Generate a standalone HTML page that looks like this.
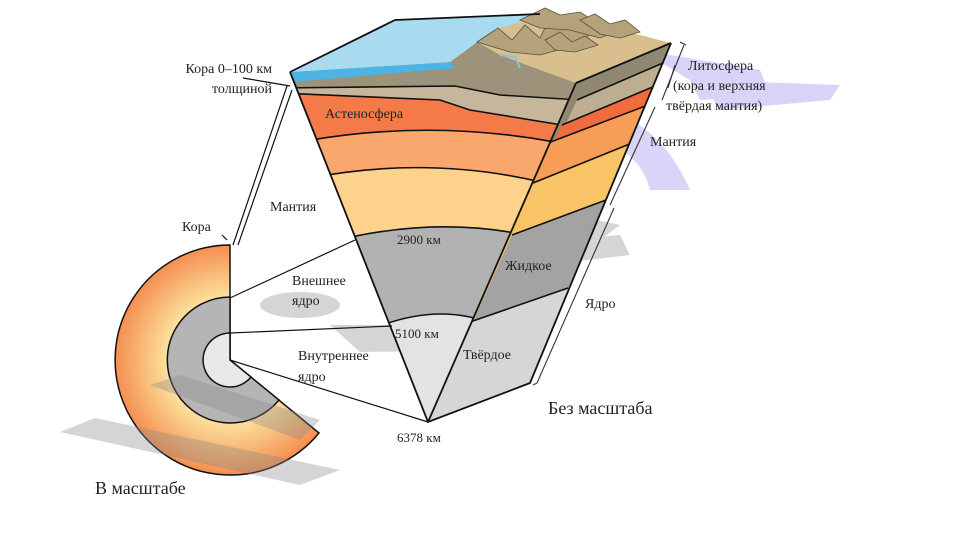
<!DOCTYPE html>
<html><head><meta charset="utf-8"><style>
html,body{margin:0;padding:0;background:#fff}
svg{display:block}
text{font-family:"Liberation Serif",serif;fill:#222}
</style></head><body>
<svg width="961" height="540" viewBox="0 0 961 540" xmlns="http://www.w3.org/2000/svg">
<defs>
<clipPath id="front"><path d="M290,72 L450,62 L477,42 L495,32 L576,83 L428,422 Z"/></clipPath>
<clipPath id="right"><path d="M576,83 L671,43 L530,383 L428,422 Z"/></clipPath>
<radialGradient id="og" cx="230" cy="360" r="118" gradientUnits="userSpaceOnUse">
<stop offset="0.5" stop-color="#fde7a2"/><stop offset="1" stop-color="#f48a4c"/></radialGradient>
</defs>

<path d="M230,245 A115,115 0 1 0 319,433 L230,360 Z" fill="url(#og)" stroke="#111" stroke-width="1.5"/>
<path d="M230,297 A63,63 0 1 0 279,400 L230,360 Z" fill="#b5b5b5" stroke="#111" stroke-width="1.5"/>
<path d="M230,333 A27,27 0 1 0 251,377 L230,360 Z" fill="#e8e8e8" stroke="#111" stroke-width="1.5"/>

<g fill="#888" opacity="0.35">
<path d="M60,432 L95,418 L340,470 L300,485 Z"/>
<path d="M150,385 L180,375 L320,420 L300,440 Z"/>
<path d="M455,205 L480,195 L620,225 L600,240 Z"/>
<ellipse cx="300" cy="305" rx="40" ry="13"/>
<path d="M330,325 L470,325 L500,350 L360,352 Z"/>
<ellipse cx="495" cy="275" rx="60" ry="40"/>
<path d="M560,240 L620,235 L630,255 L570,262 Z"/>
</g>
<g fill="#c4b5f5" opacity="0.6">
<path d="M640,50 L700,60 L760,70 L770,95 L700,100 L690,80 Z"/>
<path d="M540,120 C600,90 660,120 690,190 L650,190 C640,150 600,130 560,150 Z"/>
<path d="M700,80 L840,85 L830,100 L720,110 Z"/>
</g>

<g clip-path="url(#front)">
<rect x="280" y="0" width="320" height="430" fill="#9c937a"/>
<path d="M280,70 L450,62 L456,68 L292,82 L280,84Z" fill="#4db3e2"/>
<path d="M280,88 L455,86 L500,95 L580,100 L600,100 L600,440 L280,440Z" fill="#c6b79c"/>
<path d="M280,93 L440,100 L470,110 L562,125 L600,125 L600,440 L280,440Z" fill="#f47a4a"/>
<path d="M300,142 Q430,118 560,143 L600,440 L280,440Z" fill="#f9a76d"/>
<path d="M310,178 Q430,155 545,183 L600,440 L280,440Z" fill="#fdd28c"/>
<path d="M330,242 Q435,215 530,236 L600,440 L280,440Z" fill="#b2b2b2"/>
<path d="M370,330 Q435,302 490,323 L600,440 L280,440Z" fill="#e3e3e3"/>
<g fill="none" stroke="#111" stroke-width="1.6">
<path d="M280,88 L455,86 L500,95 L580,100"/>
<path d="M280,93 L440,100 L470,110 L562,125"/>
<path d="M300,142 Q430,118 560,143"/>
<path d="M310,178 Q430,155 545,183"/>
<path d="M330,242 Q435,215 530,236"/>
<path d="M370,330 Q435,302 490,323"/>
</g>
</g>

<g clip-path="url(#right)">
<rect x="420" y="30" width="260" height="400" fill="#8f876f"/>
<path d="M577,100 L670,60 L700,60 L700,440 L420,440Z" fill="#bdae92"/>
<path d="M562,125 L655,86 L700,86 L700,440 L420,440Z" fill="#f06c3c"/>
<path d="M548,143 L648,105 L700,105 L700,440 L420,440Z" fill="#f79d58"/>
<path d="M533,183 L632,143 L700,143 L700,440 L420,440Z" fill="#f8c466"/>
<path d="M512,235 L606,200 L700,200 L700,440 L420,440Z" fill="#a3a3a3"/>
<path d="M470,322 L568,288 L700,288 L700,440 L420,440Z" fill="#d6d6d6"/>
<g fill="none" stroke="#111" stroke-width="1.6">
<path d="M577,100 L670,60"/><path d="M562,125 L655,86"/><path d="M548,143 L648,105"/>
<path d="M533,183 L632,143"/><path d="M512,235 L606,200"/><path d="M470,322 L568,288"/>
</g>
</g>

<path d="M290,72 L395,20 L540,14 L495,32 L477,42 L450,62 Z" fill="#a8dbef"/>
<path d="M477,42 L495,30 L520,22 L545,10 L600,28 L640,35 L671,43 L576,83 L540,70 L500,55 Z" fill="#d8bf8d"/>
<g fill="#b4a27a" stroke="#5a5040" stroke-width="0.8">
<path d="M477,42 L498,28 L512,40 L525,25 L540,38 L550,18 L565,30 L575,20 L590,35 L565,48 L540,55 L510,52Z"/>
<path d="M520,20 L545,8 L560,15 L580,12 L600,25 L620,30 L600,38 L570,30 L540,28Z"/>
<path d="M580,20 L595,14 L610,24 L625,20 L640,32 L620,38 L600,34Z"/>
<path d="M545,40 L560,32 L572,42 L585,36 L598,45 L575,52 L555,50Z"/>
</g>
<path d="M500,55 L515,57 L520,68" fill="none" stroke="#7fc4e0" stroke-width="2"/>

<g fill="none" stroke="#111" stroke-width="1.8">
<path d="M290,72 L395,20 L540,14"/>
<path d="M290,72 L428,422 L530,383 L671,43"/>
<path d="M576,83 L428,422"/>
<path d="M576,83 L671,43"/>
</g>

<g fill="none" stroke="#111" stroke-width="1.2">
<path d="M233,245 L287,86"/><path d="M238,245 L292,90"/>
<path d="M230,298 L355,240"/><path d="M230,333 L392,326"/><path d="M230,360 L428,422"/>
<path d="M243,78 L290,86"/>
<path d="M227,240 L222,235"/>
</g>
<g fill="none" stroke="#333" stroke-width="1.1">
<path d="M684,45 L662,100"/><path d="M680,42 L686,45"/>
<path d="M675,65 L668,88"/>
<path d="M655,107 L610,205"/>
<path d="M614,208 L537,383"/><path d="M533,385 L537,383"/>
</g>

<g font-size="14">
<text x="272" y="73" text-anchor="end">Кора 0–100 км</text>
<text x="272" y="93" text-anchor="end">толщиной</text>
<text x="325" y="118">Астеносфера</text>
<text x="270" y="211">Мантия</text>
<text x="182" y="231">Кора</text>
<text x="292" y="285">Внешнее</text>
<text x="292" y="305">ядро</text>
<text x="298" y="360">Внутреннее</text>
<text x="298" y="381">ядро</text>
<text x="505" y="270">Жидкое</text>
<text x="463" y="359">Твёрдое</text>
<text x="585" y="308">Ядро</text>
<text x="688" y="70">Литосфера</text>
<text x="673" y="90">(кора и верхняя</text>
<text x="666" y="110">твёрдая мантия)</text>
<text x="650" y="146">Мантия</text>
</g>
<g font-size="13">
<text x="397" y="244">2900 км</text>
<text x="395" y="338">5100 км</text>
<text x="397" y="442">6378 км</text>
</g>
<text x="548" y="414" font-size="18">Без масштаба</text>
<text x="95" y="494" font-size="18">В масштабе</text>
</svg>
</body></html>
